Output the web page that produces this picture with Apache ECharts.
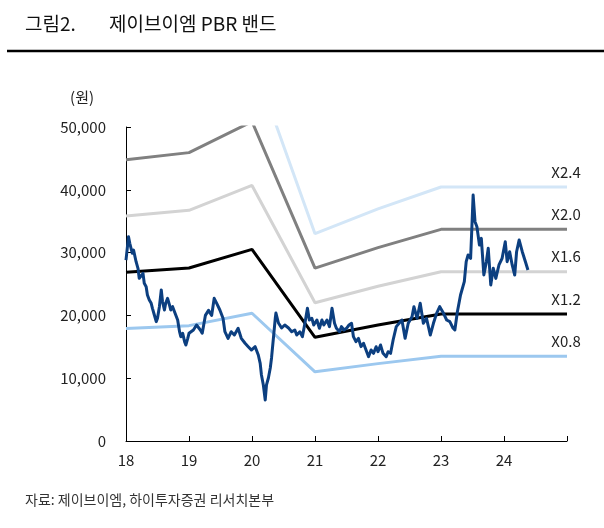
<!DOCTYPE html>
<html>
<head>
<meta charset="utf-8">
<style>
  html, body { margin: 0; padding: 0; background: #fff; }
  #chart { width: 604px; height: 528px; }
</style>
<script src="https://cdn.jsdelivr.net/npm/echarts@6/dist/echarts.min.js"></script>
</head>
<body>
<div id="chart"></div>
<script>
// 연도 (18 = 2018)
const bandYears = [18, 19, 20, 21, 22, 23, 24, 25];
const band08 = [17920, 18370, 20340, 11010, 12320, 13480, 13480, 13480];
const band12 = [26880, 27550, 30520, 16510, 18480, 20220, 20220, 20220];
const band16 = [35840, 36740, 40690, 22020, 24640, 26960, 26960, 26960];
const band20 = [44800, 45920, 50860, 27520, 30800, 33700, 33700, 33700];
const band24 = [53760, 55100, 61030, 33020, 36960, 40440, 40440, 40440];

// 주가 (원)
const priceDates = [
  18.00, 18.04, 18.06, 18.10, 18.12, 18.16, 18.19, 18.21, 18.24, 18.27,
  18.29, 18.32, 18.34, 18.37, 18.40, 18.42, 18.45, 18.48, 18.50, 18.53,
  18.56, 18.58, 18.61, 18.63, 18.66, 18.69, 18.71, 18.74, 18.77, 18.79,
  18.82, 18.85, 18.87, 18.90, 18.93, 18.95, 18.98, 19.00, 19.02, 19.07,
  19.12, 19.18, 19.21, 19.26, 19.31, 19.36, 19.40, 19.44, 19.49, 19.54,
  19.57, 19.62, 19.67, 19.72, 19.78, 19.83, 19.89, 19.94, 19.99, 20.05,
  20.10, 20.13, 20.15, 20.18, 20.21, 20.23, 20.26, 20.29, 20.31, 20.34,
  20.37, 20.38, 20.42, 20.47, 20.52, 20.58, 20.63, 20.68, 20.71, 20.76,
  20.80, 20.84, 20.88, 20.91, 20.95, 20.98, 21.03, 21.07, 21.11, 21.14,
  21.19, 21.23, 21.27, 21.31, 21.34, 21.39, 21.42, 21.46, 21.50, 21.54,
  21.58, 21.61, 21.65, 21.69, 21.73, 21.77, 21.81, 21.85, 21.89, 21.93,
  21.97, 22.00, 22.04, 22.08, 22.13, 22.16, 22.20, 22.24, 22.29, 22.32,
  22.38, 22.43, 22.48, 22.54, 22.57, 22.62, 22.67, 22.72, 22.77, 22.83,
  22.88, 22.93, 22.98, 23.04, 23.09, 23.14, 23.19, 23.22, 23.26, 23.31,
  23.37, 23.40, 23.43, 23.47, 23.49, 23.51, 23.54, 23.57, 23.61, 23.64,
  23.68, 23.72, 23.75, 23.79, 23.83, 23.87, 23.92, 23.97, 24.02, 24.05,
  24.09, 24.13, 24.17, 24.20, 24.24, 24.29, 24.34, 24.38
];
const prices = [
  28800, 32530, 31480, 29890, 30410, 28550, 27500, 25900, 26160, 26700,
  25110, 24570, 23250, 22450, 21920, 21130, 20060, 19000, 19540, 21390,
  24040, 22180, 20860, 21920, 22720, 21660, 20860, 21390, 20590, 20860,
  19270, 17400, 16610, 17150, 15820, 15290, 16350, 17150, 17400, 17680,
  18470, 17680, 17150, 20000, 20800, 20000, 22720, 21920, 20860, 19540,
  17400, 16350, 17400, 16880, 17940, 16350, 15560, 15020, 14490, 15020,
  13690, 12370, 10510, 8920, 6530, 8920, 10030, 11620, 13220, 16400,
  19590, 20380, 18790, 17990, 18470, 17990, 17400, 17680, 16880, 17400,
  16610, 18740, 21130, 19270, 19540, 18470, 19270, 17940, 19270, 18470,
  19270, 18210, 21130, 18740, 17940, 17400, 18210, 17680, 17940, 18470,
  18740, 16610, 15820, 16350, 15020, 15560, 14490, 13430, 14490, 13960,
  15020, 14220, 15290, 13960, 13430, 14220, 13960, 16080, 18210, 17940,
  19270, 16350, 18740, 19800, 21390, 19540, 21920, 18740, 19540, 16880,
  18740, 20330, 21390, 20330, 19270, 19000, 18000, 17680, 20590, 23250,
  25370, 28550, 29620, 29090, 34000, 39170, 34920, 34130, 31210, 32270,
  26430, 28550, 30680, 24840, 27500, 25900, 28030, 29090, 31740, 28550,
  30140, 28030, 26430, 30140, 32010, 30140, 28550, 27230
];

const yTicks = [0, 10000, 20000, 30000, 40000, 50000];

const FONT = '"Noto Sans CJK KR", "Noto Sans", sans-serif';

const pair = (xs, ys) => xs.map((x, i) => [x, ys[i]]);

const bands = [
  { name: 'X2.4', data: band24, color: '#d3e6f7' },
  { name: 'X2.0', data: band20, color: '#808080' },
  { name: 'X1.6', data: band16, color: '#d3d3d3' },
  { name: 'X1.2', data: band12, color: '#000000' },
  { name: 'X0.8', data: band08, color: '#9cc8ef' }
];

const chart = echarts.init(document.getElementById('chart'), null, { renderer: 'canvas' });

const option = {
  animation: false,
  backgroundColor: '#fff',
  textStyle: { fontFamily: FONT },
  title: [
    {
      text: '그림2.',
      left: 20, top: 9,
      textStyle: { fontFamily: FONT, fontSize: 19, fontWeight: 'normal', color: '#111' }
    },
    {
      text: '제이브이엠 PBR 밴드',
      left: 104, top: 9,
      textStyle: { fontFamily: FONT, fontSize: 19, fontWeight: 'normal', color: '#111' }
    },
    {
      text: '자료: 제이브이엠, 하이투자증권 리서치본부',
      left: 20, top: 488,
      textStyle: { fontFamily: FONT, fontSize: 14, fontWeight: 'normal', color: '#333' }
    }
  ],
  graphic: [
    {
      type: 'line',
      shape: { x1: 7, y1: 51, x2: 604, y2: 51 },
      style: { stroke: '#000', lineWidth: 2.5 }
    }
  ],
  grid: { left: 126, right: 37, top: 127, bottom: 87 },
  xAxis: {
    type: 'value',
    min: 18, max: 25, interval: 1,
    splitLine: { show: false },
    axisLine: { onZero: false, lineStyle: { color: '#000', width: 1 } },
    axisTick: { inside: true, length: 5, lineStyle: { color: '#000' } },
    axisLabel: {
      margin: 12,
      fontSize: 15, color: '#222', fontFamily: FONT,
      formatter: v => (v >= 25 ? '' : String(v))
    }
  },
  yAxis: {
    type: 'value',
    min: yTicks[0], max: yTicks[yTicks.length - 1], interval: 10000,
    name: '(원)',
    nameLocation: 'end',
    nameGap: 22,
    nameTextStyle: { fontSize: 15, color: '#222', fontFamily: FONT, align: 'right', padding: [0, 32, 0, 0] },
    splitLine: { show: false },
    axisLine: { show: true, lineStyle: { color: '#000', width: 1 } },
    axisTick: { show: true, inside: true, length: 5, lineStyle: { color: '#000' } },
    axisLabel: {
      margin: 20,
      fontSize: 15, color: '#222', fontFamily: FONT,
      formatter: v => v.toLocaleString('en-US')
    }
  },
  series: [
    ...bands.map(b => ({
      name: b.name,
      type: 'line',
      data: pair(bandYears, b.data),
      symbol: 'none',
      clip: true,
      lineStyle: { color: b.color, width: 3 },
      endLabel: {
        show: true,
        formatter: b.name,
        color: '#222',
        fontSize: 15,
        fontFamily: FONT,
        align: 'center',
        offset: [-9, -15]
      },
      z: 2
    })),
    {
      name: '주가',
      type: 'line',
      data: pair(priceDates, prices),
      symbol: 'none',
      clip: true,
      lineStyle: { color: '#0c3f80', width: 3, join: 'round' },
      z: 3
    }
  ]
};

chart.setOption(option);
</script>
</body>
</html>
